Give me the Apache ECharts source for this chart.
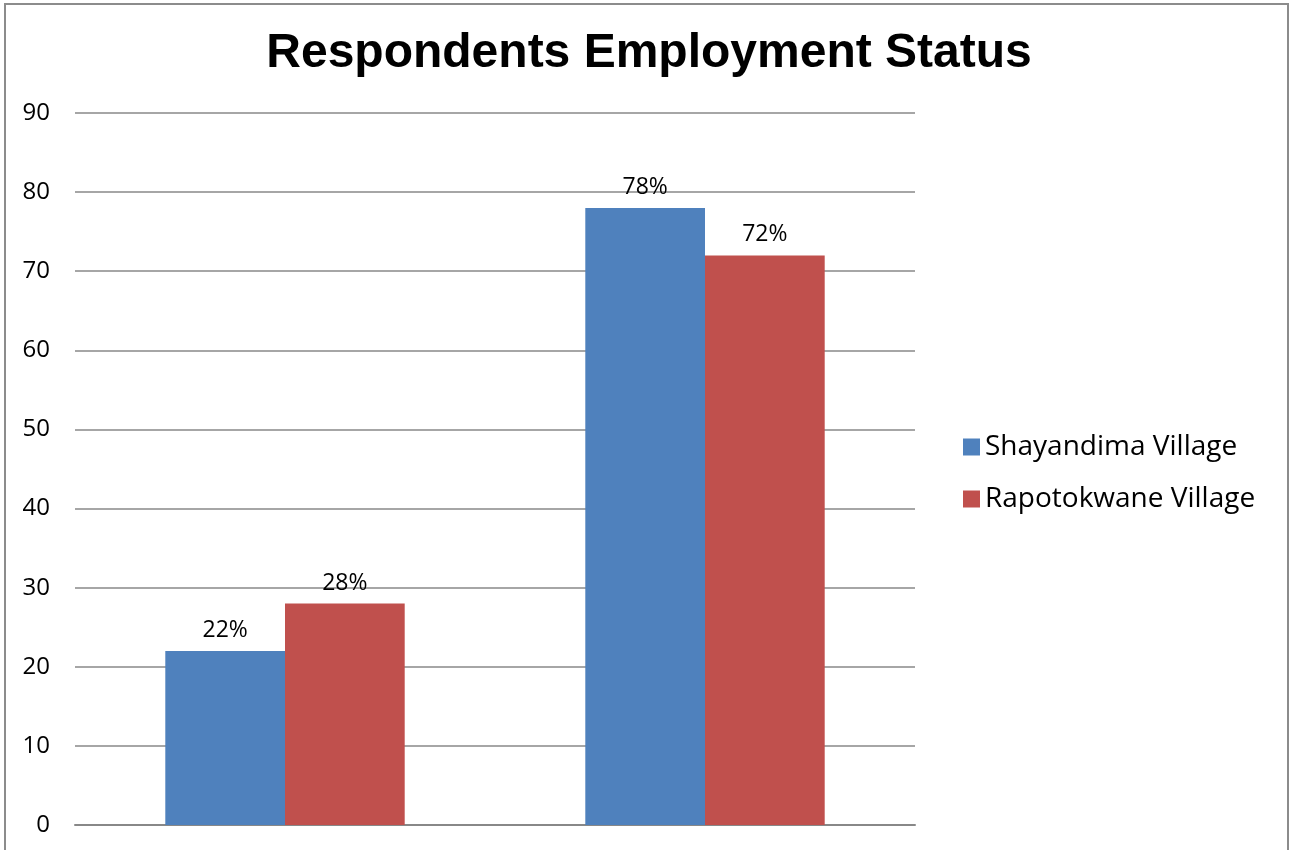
<!DOCTYPE html>
<html lang="en">
<head>
    <meta charset="UTF-8">
    <title>Respondents Employment Status</title>
    <script src="https://cdn.jsdelivr.net/npm/echarts@6/dist/echarts.min.js"></script>
    <style>
        html, body { margin: 0; padding: 0; background: #fff; }
        #graph { width: 1298px; height: 850px; }
    </style>
</head>
<body>
<div id="graph"></div>
<script>
    // data
    var categories = ['Employed', 'Unemployed'];
    var seriesNames = ['Shayandima Village', 'Rapotokwane Village'];
    var shayandima = [22, 78];
    var rapotokwane = [28, 72];
    var yTicks = [0, 10, 20, 30, 40, 50, 60, 70, 80, 90];

    var myChart = echarts.init(document.getElementById('graph'));
    var labelStyle = {
        show: true,
        position: 'top',
        distance: 9,
        formatter: '{c}%',
        color: '#000',
        fontSize: 23,
        fontFamily: 'Open Sans'
    };
    var option = {
        animation: false,
        title: {
            text: 'Respondents Employment Status',
            left: 'center',
            top: 25,
            textStyle: {
                fontFamily: 'Liberation Sans',
                fontWeight: 'bold',
                fontSize: 48,
                color: '#000'
            }
        },
        graphic: [{
            type: 'rect',
            shape: { x: 5, y: 4, width: 1283, height: 860 },
            style: { fill: null, stroke: '#8c8c8c', lineWidth: 2 }
        }],
        legend: {
            orient: 'vertical',
            left: 958,
            top: 428,
            itemWidth: 17,
            itemHeight: 17,
            itemGap: 24,
            icon: 'rect',
            data: seriesNames,
            textStyle: { fontSize: 28, fontFamily: 'Open Sans', color: '#000' }
        },
        grid: { left: 75, right: 383, top: 113, bottom: 25 },
        xAxis: {
            type: 'category',
            data: categories,
            axisLine: { lineStyle: { color: '#888', width: 2 } },
            axisTick: { show: false },
            axisLabel: { show: false }
        },
        yAxis: {
            type: 'value',
            min: yTicks[0],
            max: yTicks[yTicks.length - 1],
            interval: 10,
            axisLine: { show: false },
            axisTick: { show: false },
            axisLabel: { margin: 25, fontSize: 24, fontFamily: 'Open Sans', color: '#000' },
            splitLine: { lineStyle: { color: '#888', width: 1.5 } }
        },
        series: [{
            name: seriesNames[0],
            type: 'bar',
            data: shayandima,
            barGap: '0%',
            barCategoryGap: '43%',
            itemStyle: { color: '#4f81bd' },
            label: labelStyle
        }, {
            name: seriesNames[1],
            type: 'bar',
            data: rapotokwane,
            itemStyle: { color: '#c0504d' },
            label: labelStyle
        }]
    };
    myChart.setOption(option);
</script>
</body>
</html>
